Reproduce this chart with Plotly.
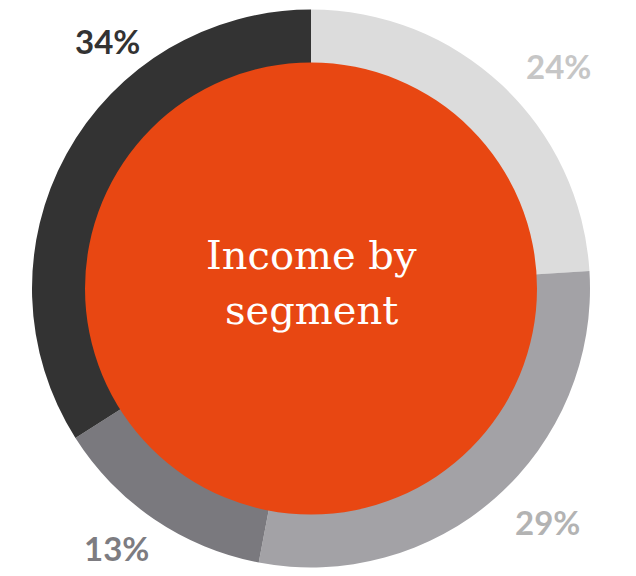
import plotly.graph_objects as go

# Income share by segment, clockwise from 12 o'clock
segments = ["Segment A", "Segment B", "Segment C", "Segment D"]
shares = [24, 29, 13, 34]
ring_colors = ["#dcdcdc", "#a3a2a6", "#7a797e", "#333333"]
label_colors = ["#c6c6c6", "#b3b3b3", "#7d7c81", "#333333"]
center_lines = ["Income by", "segment"]

W, H = 636, 576
CX, CY = 311, 288.5          # ring centre in pixels (from top-left)
R_OUT, R_IN = 279, 226        # outer ring radius, centre disc radius

# label anchor points in pixels, one per segment
label_px = [(558, 66), (547, 522), (117, 548), (107, 41)]


def px_x(x):
    return x / W


def px_y(y):
    return 1 - y / H


fig = go.Figure()
fig.add_trace(go.Pie(
    labels=segments,
    values=shares,
    sort=False,
    direction="clockwise",
    rotation=0,
    hole=0.80,
    marker=dict(colors=ring_colors, line=dict(width=0)),
    textinfo="none",
    hoverinfo="label+percent",
    showlegend=False,
    domain=dict(x=[px_x(CX - R_OUT), px_x(CX + R_OUT)],
                y=[px_y(CY + R_OUT), px_y(CY - R_OUT)]),
))

# orange centre disc
fig.add_shape(
    type="circle", xref="paper", yref="paper",
    x0=px_x(CX - R_IN), x1=px_x(CX + R_IN),
    y0=px_y(CY + R_IN), y1=px_y(CY - R_IN),
    fillcolor="#e84712", line=dict(width=0), layer="above",
)

annotations = []
for v, col, (lx, ly) in zip(shares, label_colors, label_px):
    annotations.append(dict(
        x=px_x(lx), y=px_y(ly), xref="paper", yref="paper",
        text=f"<b>{v}%</b>", showarrow=False,
        xanchor="center", yanchor="middle",
        font=dict(family="Lato", size=33, color=col, weight=900),
    ))

for line, ly in zip(center_lines, [255, 310]):
    annotations.append(dict(
        x=px_x(CX), y=px_y(ly), xref="paper", yref="paper",
        text=line, showarrow=False,
        xanchor="center", yanchor="middle",
        font=dict(family="DejaVu Serif", size=40, color="#ffffff"),
    ))

fig.update_layout(
    width=W, height=H,
    margin=dict(l=0, r=0, t=0, b=0),
    paper_bgcolor="#ffffff",
    plot_bgcolor="#ffffff",
    annotations=annotations,
)

fig.write_html("out.html")
